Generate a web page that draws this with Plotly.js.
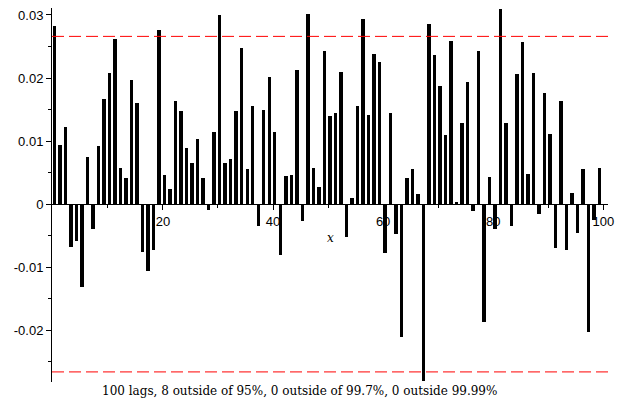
<!DOCTYPE html>
<html>
<head>
<meta charset="utf-8">
<script src="https://cdn.plot.ly/plotly-3.0.1.min.js"></script>
<style>html,body{margin:0;padding:0;background:#fff;}#chart{width:617px;height:406px;}</style>
</head>
<body>
<div id="chart"></div>
<script>
// Autocorrelation values for lags 1..100
var lags = [];
for (var k = 1; k <= 100; k++) lags.push(k);
var acf = [
  0.0282, 0.0093, 0.0123, -0.0068, -0.0058, -0.0131, 0.0074, -0.0039, 0.0092, 0.0167,
  0.0208, 0.0262, 0.0057, 0.0041, 0.0197, 0.0161, -0.0076, -0.0106, -0.0072, 0.0276,
  0.0047, 0.0024, 0.0163, 0.0147, 0.0089, 0.0066, 0.0103, 0.0042, -0.0009, 0.0115,
  0.0300, 0.0066, 0.0072, 0.0148, 0.0247, 0.0056, 0.0156, -0.0035, 0.0150, 0.0201,
  0.0115, -0.0080, 0.0045, 0.0046, 0.0213, -0.0027, 0.0301, 0.0057, 0.0027, 0.0243,
  0.0139, 0.0144, 0.0209, -0.0052, 0.0009, 0.0155, 0.0294, 0.0141, 0.0238, 0.0225,
  -0.0078, 0.0144, -0.0047, -0.0211, 0.0041, 0.0056, 0.0016, -0.0281, 0.0286, 0.0236,
  0.0188, 0.0109, 0.0258, 0.0004, 0.0129, 0.0194, -0.0011, 0.0243, -0.0187, 0.0043,
  -0.0040, 0.0309, 0.0129, -0.0034, 0.0206, 0.0257, 0.0048, 0.0208, -0.0015, 0.0176,
  0.0112, -0.0069, 0.0164, -0.0072, 0.0017, -0.0045, 0.0055, -0.0203, -0.0025, 0.0057
];
var bound95 = 0.0266;
var xRange = [-0.15, 100.85];
var yRange = [-0.0282, 0.0311];
var yTickVals = [-0.02, -0.01, 0, 0.01, 0.02, 0.03];
var yTickText = ["-0.02", "-0.01", "0", "0.01", "0.02", "0.03"];
var yMinorVals = [-0.025, -0.015, -0.005, 0.005, 0.015, 0.025];
var xTickVals = [20, 40, 60, 80, 100];
var xTickText = ["20", "40", "60", "80", "100"];
var xMinorVals = [10, 30, 50, 70, 90];
var caption = "100 lags, 8 outside of 95%, 0 outside of 99.7%, 0 outside 99.99%";

var tickFont = {family: "Liberation Sans, Arial, sans-serif", size: 13, color: "#000"};

var traces = [
  {
    type: "bar",
    x: lags,
    y: acf,
    width: 0.63,
    offset: -1,
    marker: {color: "#000", line: {width: 0}},
    hoverinfo: "skip"
  },
  {
    type: "scatter", mode: "lines",
    x: xRange, y: [bound95, bound95],
    line: {color: "#ff0000", width: 1, dash: "12px,5px"},
    hoverinfo: "skip"
  },
  {
    type: "scatter", mode: "lines",
    x: xRange, y: [-bound95, -bound95],
    line: {color: "#ff0000", width: 1, dash: "12px,5px"},
    hoverinfo: "skip"
  }
];

var zeroPos = (0 - yRange[0]) / (yRange[1] - yRange[0]);

var layout = {
  width: 617, height: 406,
  margin: {l: 52, r: 9, t: 8, b: 24, pad: 0},
  paper_bgcolor: "#fff", plot_bgcolor: "#fff",
  showlegend: false,
  bargap: 0,
  xaxis: {
    range: xRange,
    anchor: "free", position: zeroPos,
    showgrid: false, zeroline: false,
    showline: true, linecolor: "#000", linewidth: 1,
    tickmode: "array", tickvals: xTickVals, ticktext: xTickText,
    ticks: "outside", ticklen: 5, tickcolor: "#000", tickwidth: 1,
    minor: {tickmode: "array", tickvals: xMinorVals, ticks: "outside", ticklen: 3, tickcolor: "#000", showgrid: false},
    tickfont: tickFont
  },
  yaxis: {
    range: yRange,
    showgrid: false, zeroline: false,
    showline: true, linecolor: "#000", linewidth: 1,
    tickmode: "array", tickvals: yTickVals, ticktext: yTickText,
    ticks: "outside", ticklen: 5, tickcolor: "#000", tickwidth: 1,
    minor: {tickmode: "array", tickvals: yMinorVals, ticks: "outside", ticklen: 3, tickcolor: "#000", showgrid: false},
    tickfont: tickFont
  },
  annotations: [
    {
      text: "x", xref: "x", yref: "y", x: 50.4, y: -0.0054,
      showarrow: false, xanchor: "center", yanchor: "middle",
      font: {family: "DejaVu Serif, serif", size: 12, color: "#000", style: "italic"}
    },
    {
      text: caption, xref: "paper", yref: "paper", x: 0.446, y: -0.0233,
      showarrow: false, xanchor: "center", yanchor: "middle",
      font: {family: "DejaVu Serif, serif", size: 12, color: "#000"}
    }
  ]
};

Plotly.newPlot("chart", traces, layout, {displayModeBar: false, staticPlot: true});
</script>
</body>
</html>
